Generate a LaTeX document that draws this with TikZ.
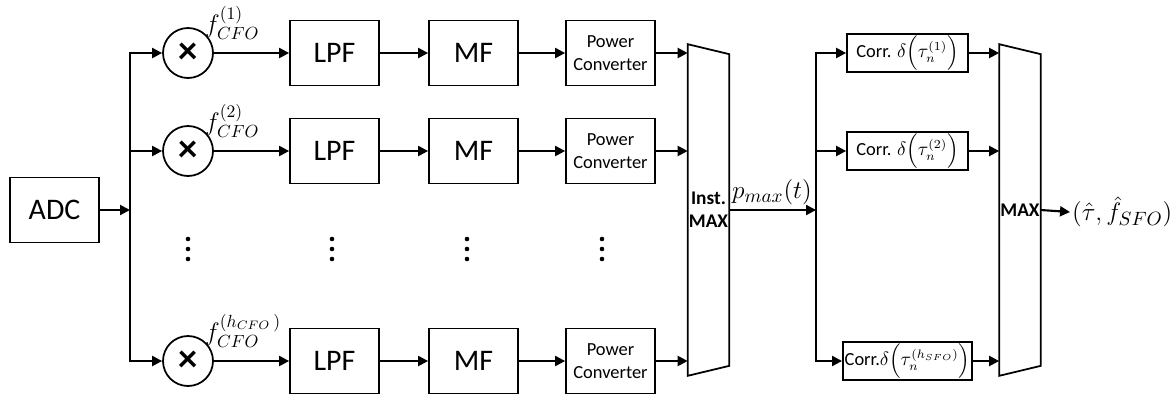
\documentclass[tikz,border=0pt]{standalone}
\usepackage{amsmath}
\usepackage{fontspec}
\setmainfont{Carlito}
\usetikzlibrary{arrows.meta,positioning,calc}

\begin{document}
\begin{tikzpicture}[
  x=0.02cm, y=-0.02cm,
  >={Triangle[length=2mm,width=2mm]},
  blk/.style={draw, line width=1pt, minimum width=1.78cm, minimum height=1.3cm, inner sep=2pt, font=\fontsize{17}{20}\selectfont},
  pwr/.style={blk, align=center, font=\fontsize{10.5}{13}\selectfont},
  mixer/.style={draw, circle, line width=1pt, minimum size=1cm, inner sep=0pt, font=\fontsize{22}{22}\selectfont\bfseries},
  corr/.style={draw, line width=1pt, minimum width=2.42cm, minimum height=0.74cm, inner sep=1pt, font=\fontsize{10.5}{12}\selectfont},
  sel/.style={minimum width=0.82cm, minimum height=6.62cm, inner sep=0pt, align=center, font=\fontsize{11}{13}\selectfont\bfseries},
  flab/.style={anchor=south west, inner sep=0pt, xshift=-1pt, yshift=-3pt, font=\fontsize{14.5}{14}\selectfont},
  flow/.style={->, line width=1.2pt},
]
  \useasboundingbox (0,0) rectangle (1175,400);

  % input and CFO branches
  \node[blk] (adc) at (54.5,210) {ADC};
  \coordinate (splitA) at (130,210);
  \node[mixer] (m1) at (188,53) {×};
  \node[mixer] (m2) at (188,151) {×};
  \node[mixer] (m4) at (188,361) {×};
  \node[flab] (f1) at (m1.north east) {$f_{CFO}^{(1)}$};
  \node[flab] (f2) at (m2.north east) {$f_{CFO}^{(2)}$};
  \node[flab] (f4) at (m4.north east) {$f_{CFO}^{(h_{CFO}\,)}$};

  \node[blk] (lpf1) at (334.5,53) {LPF};
  \node[blk] (lpf2) at (334.5,151) {LPF};
  \node[blk] (lpf4) at (334.5,361) {LPF};
  \node[blk] (mf1) at (473.5,53) {MF};
  \node[blk] (mf2) at (473.5,151) {MF};
  \node[blk] (mf4) at (473.5,361) {MF};
  \node[pwr] (pc1) at (610.5,53) {Power\\Converter};
  \node[pwr] (pc2) at (610.5,151) {Power\\Converter};
  \node[pwr] (pc4) at (610.5,361) {Power\\Converter};

  \node[sel] (imax) at (708.5,210) {Inst.\\MAX};
  \draw[line width=1pt] (imax.north west) -- ($(imax.north east)+(0,10)$)
    -- ($(imax.south east)+(0,-10)$) -- (imax.south west) -- cycle;

  % SFO branches
  \coordinate (splitB) at (816,210);
  \node[font=\fontsize{15.5}{15}\selectfont] (pmax) at (772,192) {$p_{max}(t)$};
  \node[corr] (c1) at (907.5,53) {Corr. $\delta\Bigl(\tau_n^{(1)}\Bigr)$};
  \node[corr] (c2) at (907.5,151) {Corr. $\delta\Bigl(\tau_n^{(2)}\Bigr)$};
  \node[corr] (c4) at (907.5,361) {Corr.$\delta\Bigl(\tau_n^{(h_{SFO})}\Bigr)$};

  \node[sel] (max) at (1020,210) {MAX};
  \draw[line width=1pt] (max.north west) -- ($(max.north east)+(0,10)$)
    -- ($(max.south east)+(0,-10)$) -- (max.south west) -- cycle;
  \node[anchor=west, inner sep=1pt, font=\fontsize{15}{15}\selectfont] (out) at (1070,212) {$(\hat{\tau},\hat{f}_{SFO})$};

  % connectors
  \draw[flow] (adc) -- (splitA);
  \foreach \r in {1,2,4} {
    \draw[flow] (splitA) |- (m\r);
    \draw[flow] (m\r) -- (lpf\r);
    \draw[flow] (lpf\r) -- (mf\r);
    \draw[flow] (mf\r) -- (pc\r);
    \draw[flow] (pc\r.east) -- (pc\r.east -| imax.west);
    \draw[flow] (splitB) |- (c\r);
    \draw[flow] (c\r.east) -- (c\r.east -| max.west);
  }
  \draw[flow] (imax.east) -- (splitB);
  \draw[flow] (max.east) -- (out.west);

  % dots
  \foreach \x in {188,332,467,602}
    \foreach \y in {239,249,259}
      \fill (\x,\y) circle (1.3pt);
\end{tikzpicture}
\end{document}
